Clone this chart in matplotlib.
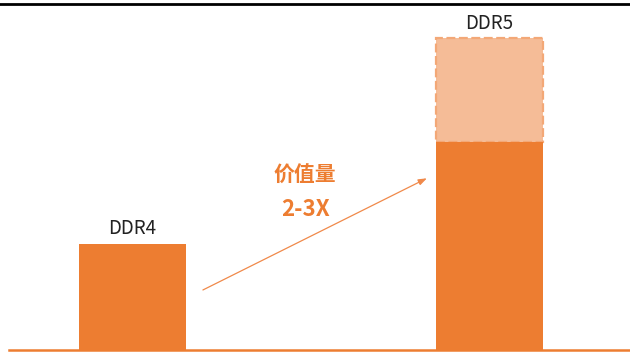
import matplotlib
matplotlib.use("Agg")
import matplotlib.pyplot as plt
from matplotlib.lines import Line2D

plt.rcParams['font.family'] = ['Noto Sans CJK SC', 'DejaVu Sans']

categories = ["DDR4", "DDR5"]
base_values = [1.0, 1.96]          # solid bars (relative value)
upper_values = [None, 2.94]        # DDR5 upper range (dashed)
annotation_lines = ["价值量", "2-3X"]

ORANGE = "#ED7D31"
LIGHT = "#F5BC97"
LIGHT_EDGE = "#F3A877"

fig = plt.figure(figsize=(6.30, 3.56), dpi=100)
ax = fig.add_axes([0, 0, 1, 1])
x = list(range(len(categories)))
width = 0.30

# upper dashed range
for xi, lo, hi in zip(x, base_values, upper_values):
    if hi is not None:
        ax.bar(xi, hi - lo, bottom=lo, width=width, color=LIGHT,
               edgecolor=LIGHT_EDGE, linewidth=1.6, linestyle=(0, (4, 1.6)), zorder=1)

ax.bar(x, base_values, width=width, color=ORANGE, linewidth=0, zorder=2)

# labels above bars
for xi, lo, hi, name in zip(x, base_values, upper_values, categories):
    top = hi if hi is not None else lo
    ax.annotate(name, (xi, top), xytext=(0, 11), textcoords="offset points",
                ha="center", va="center", fontsize=13.5, color="#222222")

ax.set_xlim(-0.371, 1.394)
ax.set_ylim(-0.057, 3.302)
ax.axis("off")

# baseline
ax.axhline(0, xmin=9 / 630, xmax=1, color=ORANGE, linewidth=1.8, zorder=3)

# arrow
ax.annotate("", xy=(0.825, 1.62), xytext=(0.1975, 0.566),
            arrowprops=dict(arrowstyle="-|>,head_length=0.5,head_width=0.18",
                            color="#F0894A", lw=0.9, shrinkA=0, shrinkB=0))

ax.text(0.483, 1.65, annotation_lines[0], ha="center", va="center",
        fontsize=15, fontweight="bold", color=ORANGE)
ax.text(0.485, 1.33, annotation_lines[1], ha="center", va="center",
        fontsize=16, fontweight="bold", color=ORANGE)

# top frame line
fig.add_artist(Line2D([0, 1], [1 - 4.3 / 356, 1 - 4.3 / 356], color="black",
                      linewidth=2.0, transform=fig.transFigure))

fig.savefig("out.png", dpi=100)
